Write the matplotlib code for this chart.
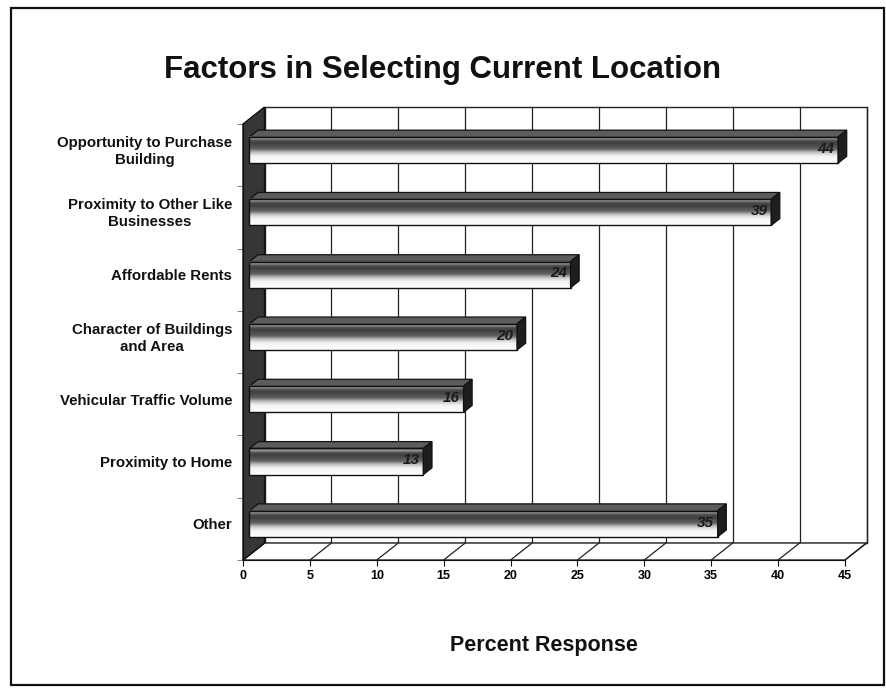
import matplotlib
matplotlib.use("Agg")
import matplotlib.pyplot as plt
import numpy as np
from matplotlib.patches import Polygon, Rectangle
from matplotlib.colors import LinearSegmentedColormap

plt.rcParams['font.family'] = ['Liberation Sans', 'DejaVu Sans']

# survey results, listed top to bottom
categories = [
    "Opportunity to Purchase\nBuilding",
    "Proximity to Other Like\nBusinesses",
    "Affordable Rents",
    "Character of Buildings\nand Area",
    "Vehicular Traffic Volume",
    "Proximity to Home",
    "Other",
]
percent = [44, 39, 24, 20, 16, 13, 35]
xticks = [0, 5, 10, 15, 20, 25, 30, 35, 40, 45]

XMAX = 45
NCAT = len(categories)
# oblique depth of the 3d box (data units)
DX, DY = 1.61, 0.273
# bar sits between these fractions of the depth
F0, F1 = 0.3, 0.7
BAR_H = 0.42

fig = plt.figure(figsize=(8.86, 6.88), dpi=100)
fig.patch.set_facecolor("white")
ax = fig.add_axes([243 / 886, 1 - 560 / 688, 602 / 886, 436 / 688])

# outer frame
fig.patches.append(Rectangle((11 / 886, 1 - 685 / 688), 873 / 886, 677 / 688,
                             transform=fig.transFigure, fill=False,
                             edgecolor="#111111", linewidth=1.6))

# back wall
ax.add_patch(Polygon([(DX, DY), (XMAX + DX, DY), (XMAX + DX, NCAT + DY), (DX, NCAT + DY)],
                     closed=True, facecolor="white", edgecolor="#222222", lw=1.0, zorder=1))
for k in xticks[1:]:
    ax.plot([k + DX, k + DX], [DY, NCAT + DY], color="#222222", lw=0.9, zorder=1.5)

# floor
ax.add_patch(Polygon([(0, 0), (XMAX, 0), (XMAX + DX, DY), (DX, DY)],
                     closed=True, facecolor="white", edgecolor="#222222", lw=1.0, zorder=2))
for k in xticks:
    ax.plot([k, k + DX], [0, DY], color="#222222", lw=0.9, zorder=2)

# left wall
ax.add_patch(Polygon([(0, 0), (DX, DY), (DX, NCAT + DY), (0, NCAT)],
                     closed=True, facecolor="#363636", edgecolor="#111111", lw=1.0, zorder=3))

face_cmap = LinearSegmentedColormap.from_list("face", [
    (0.0, "#ffffff"), (0.26, "#f2f2f2"), (0.40, "#bdbdbd"), (0.52, "#626262"),
    (0.75, "#3e3e3e"), (0.86, "#555555"), (0.91, "#aaaaaa"), (1.0, "#3a3a3a")])
grad = np.linspace(0, 1, 64).reshape(-1, 1)

for i, (lab, v) in enumerate(zip(categories, percent)):
    c = NCAT - 0.5 - i
    y0 = c - BAR_H / 2 + F0 * DY
    y1 = c + BAR_H / 2 + F0 * DY
    x0 = F0 * DX
    x1 = v + F0 * DX
    ddx, ddy = (F1 - F0) * DX, (F1 - F0) * DY
    # top face
    ax.add_patch(Polygon([(x0, y1), (x1, y1), (x1 + ddx, y1 + ddy), (x0 + ddx, y1 + ddy)],
                         closed=True, facecolor="#5c5c5c", edgecolor="#111111", lw=0.9, zorder=5))
    # front face with shading
    ax.imshow(grad, extent=[x0, x1, y0, y1], origin="lower", cmap=face_cmap,
              aspect="auto", interpolation="bicubic", zorder=5)
    ax.add_patch(Rectangle((x0, y0), x1 - x0, y1 - y0, fill=False,
                           edgecolor="#111111", lw=1.0, zorder=6))
    # end cap
    ax.add_patch(Polygon([(x1, y0), (x1 + ddx, y0 + ddy), (x1 + ddx, y1 + ddy), (x1, y1)],
                         closed=True, facecolor="#1e1e1e", edgecolor="#111111", lw=0.9, zorder=6))
    # value label
    ax.text(x1 - 0.25, (y0 + y1) / 2 + 0.02, str(v), ha="right", va="center",
            fontsize=11, fontweight="bold", fontstyle="italic", color="#1a1a1a", zorder=7)
    # category label
    ax.text(-0.8, c + 0.06, lab, ha="right", va="center", multialignment="center",
            fontsize=10.8, fontweight="bold", color="#111111", linespacing=1.3)

ax.set_xlim(0, XMAX)
ax.set_ylim(0, NCAT)
for s in ["top", "right"]:
    ax.spines[s].set_visible(False)
ax.spines["left"].set_color("#111111")
ax.spines["bottom"].set_color("#111111")
ax.spines["left"].set_zorder(8)
ax.set_xticks(xticks)
ax.set_xticklabels([str(t) for t in xticks], fontsize=9, fontweight="bold")
ax.set_yticks(range(NCAT + 1))
ax.set_yticklabels([])
ax.tick_params(axis="x", direction="out", length=4, pad=3, color="#111111")
ax.tick_params(axis="y", direction="out", length=4, color="#888888")
ax.patch.set_visible(False)
for artist in ax.get_children():
    artist.set_clip_on(False)

fig.text(0.5, 1 - 70 / 688, "Factors in Selecting Current Location", ha="center", va="center",
         fontsize=22.5, fontweight="bold", color="#111111")
fig.text(544 / 886, 1 - 645 / 688, "Percent Response", ha="center", va="center",
         fontsize=15.5, fontweight="bold", color="#111111")

fig.savefig("out.png", dpi=100)
